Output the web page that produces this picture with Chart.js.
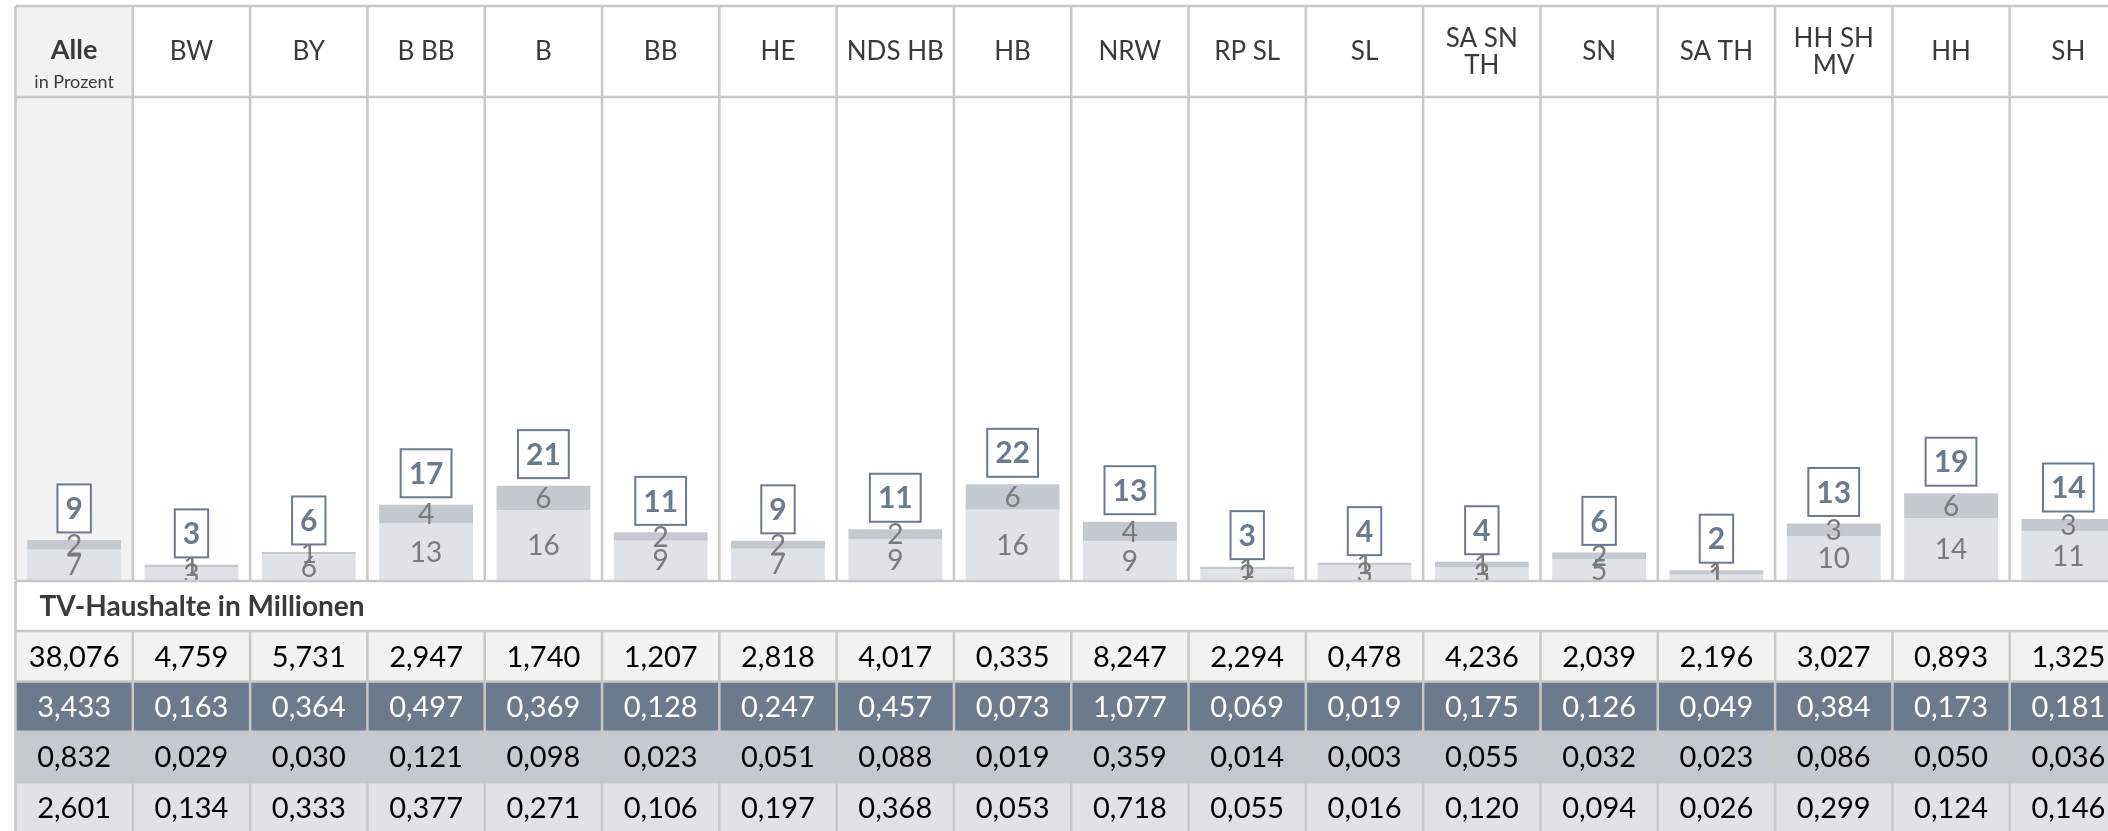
<!DOCTYPE html>
<html lang="de">
<head>
<meta charset="utf-8">
<title>TV-Haushalte nach Regionen</title>
<script src="https://cdn.jsdelivr.net/npm/chart.js@4.4.1/dist/chart.umd.min.js"></script>
<style>
  html, body { margin: 0; padding: 0; background: #fff; overflow: hidden; }
  #wrap { width: 2140px; height: 831px; }
</style>
</head>
<body>
<div id="wrap"><canvas id="grafik" width="2140" height="831"></canvas></div>
<script>
// Regionen (Spalten), mehrzeilige Kopfzeilen als Array
var regionen = ['Alle', 'BW', 'BY', 'B BB', 'B', 'BB', 'HE', 'NDS HB', 'HB', 'NRW', 'RP SL', 'SL', ['SA SN', 'TH'], 'SN', 'SA TH', ['HH SH', 'MV'], 'HH', 'SH'];

// Anteile in Prozent (Balken)
var anteilUnten = [6.8, 2.8, 5.8, 12.8, 15.6, 8.8, 7.0, 9.2, 15.8, 8.7, 2.4, 3.3, 2.8, 4.6, 1.2, 9.9, 13.9, 11.0];
var anteilOben = [2.2, 0.6, 0.5, 4.1, 5.6, 1.9, 1.8, 2.2, 5.7, 4.4, 0.6, 0.6, 1.3, 1.6, 1.0, 2.8, 5.6, 2.7];
var anteilGesamt = [9, 3, 6, 17, 21, 11, 9, 11, 22, 13, 3, 4, 4, 6, 2, 13, 19, 14];

// TV-Haushalte in Millionen (Tabelle)
var haushalteAlle = [38.076, 4.759, 5.731, 2.947, 1.740, 1.207, 2.818, 4.017, 0.335, 8.247, 2.294, 0.478, 4.236, 2.039, 2.196, 3.027, 0.893, 1.325];
var haushalteGesamt = [3.433, 0.163, 0.364, 0.497, 0.369, 0.128, 0.247, 0.457, 0.073, 1.077, 0.069, 0.019, 0.175, 0.126, 0.049, 0.384, 0.173, 0.181];
var haushalteOben = [0.832, 0.029, 0.030, 0.121, 0.098, 0.023, 0.051, 0.088, 0.019, 0.359, 0.014, 0.003, 0.055, 0.032, 0.023, 0.086, 0.050, 0.036];
var haushalteUnten = [2.601, 0.134, 0.333, 0.377, 0.271, 0.106, 0.197, 0.368, 0.053, 0.718, 0.055, 0.016, 0.120, 0.094, 0.026, 0.299, 0.124, 0.146];

var SCHRIFT = 'Lato, "Open Sans", sans-serif';
var LINIE = '#c8c8c8';
var SCHIEFER = '#6b7a8c';

function zahl(v) {
    return v.toFixed(3).replace('.', ',');
}

// Kopfzeile, Raster, Beschriftungen und Tabelle
var tabellePlugin = {
    id: 'tabelle',
    beforeDatasetsDraw: function (chart) {
        var ctx = chart.ctx;
        var a = chart.chartArea;
        var n = regionen.length;
        var w = (a.right - a.left) / n;
        var oben = 6;
        ctx.save();
        // Hintergrund Spalte "Alle"
        ctx.fillStyle = '#f2f2f2';
        ctx.fillRect(a.left, oben, w, a.bottom - oben);
        // Kopfzeile
        ctx.fillStyle = '#3a3a3a';
        ctx.textAlign = 'center';
        ctx.textBaseline = 'middle';
        var mitte = (oben + a.top) / 2;
        for (var i = 0; i < n; i++) {
            var x = chart.scales.x.getPixelForValue(i);
            var lab = regionen[i];
            if (i === 0) {
                ctx.font = 'bold 27px ' + SCHRIFT;
                ctx.fillText(lab, x, mitte - 1);
                ctx.font = '18px ' + SCHRIFT;
                ctx.fillText('in Prozent', x, mitte + 31);
            } else if (Array.isArray(lab)) {
                ctx.font = '26px ' + SCHRIFT;
                ctx.fillText(lab[0], x, mitte - 13);
                ctx.fillText(lab[1], x, mitte + 14);
            } else {
                ctx.font = '26px ' + SCHRIFT;
                ctx.fillText(lab, x, mitte);
            }
        }
        // Raster
        ctx.strokeStyle = LINIE;
        ctx.lineWidth = 2.5;
        ctx.beginPath();
        for (var k = 0; k <= n; k++) {
            var xl = a.left + k * w;
            ctx.moveTo(xl, oben);
            ctx.lineTo(xl, a.bottom);
        }
        ctx.moveTo(a.left, oben);
        ctx.lineTo(a.right + 5, oben);
        ctx.moveTo(a.left, a.top);
        ctx.lineTo(a.right + 5, a.top);
        ctx.stroke();
        ctx.restore();
    },
    afterDatasetsDraw: function (chart) {
        var ctx = chart.ctx;
        var unten = chart.getDatasetMeta(0).data;
        var obenM = chart.getDatasetMeta(1).data;
        ctx.save();
        ctx.textAlign = 'center';
        ctx.textBaseline = 'middle';
        for (var i = 0; i < regionen.length; i++) {
            var b0 = unten[i], b1 = obenM[i];
            ctx.fillStyle = '#7a7a7a';
            ctx.font = '28px ' + SCHRIFT;
            ctx.fillText(String(Math.round(anteilUnten[i])), b0.x, (b0.y + b0.base) / 2 + 1);
            ctx.fillText(String(Math.round(anteilOben[i])), b1.x, (b1.y + b1.base) / 2 + 1);
            // Box mit Gesamtwert
            ctx.font = 'bold 30px ' + SCHRIFT;
            var txt = String(anteilGesamt[i]);
            var bw = ctx.measureText(txt).width + 16;
            var bh = 48;
            var by = b1.y - 7.5 - bh;
            ctx.fillStyle = '#fff';
            ctx.fillRect(b1.x - bw / 2, by, bw, bh);
            ctx.strokeStyle = SCHIEFER;
            ctx.lineWidth = 2;
            ctx.strokeRect(b1.x - bw / 2, by, bw, bh);
            ctx.fillStyle = SCHIEFER;
            ctx.fillText(txt, b1.x, by + bh / 2 + 1);
        }
        ctx.restore();
    },
    afterDraw: function (chart) {
        var ctx = chart.ctx;
        var a = chart.chartArea;
        var n = regionen.length;
        var w = (a.right - a.left) / n;
        var y0 = a.bottom + 1;
        var titelH = 50;
        var zeileH = 50.4;
        var zeilen = [
            { werte: haushalteAlle, bg: '#f2f2f2', fg: '#000' },
            { werte: haushalteGesamt, bg: SCHIEFER, fg: '#fff' },
            { werte: haushalteOben, bg: '#c5cad1', fg: '#000' },
            { werte: haushalteUnten, bg: '#dfe2e6', fg: '#000' }
        ];
        ctx.save();
        // Titelzeile
        ctx.fillStyle = '#fff';
        ctx.fillRect(a.left, y0, a.right - a.left + 5, titelH);
        ctx.fillStyle = '#3a3a3a';
        ctx.font = 'bold 28px ' + SCHRIFT;
        ctx.textAlign = 'left';
        ctx.textBaseline = 'middle';
        ctx.fillText('TV-Haushalte in Millionen', a.left + 24, y0 + titelH / 2 + 1);
        // Datenzeilen
        var yz = y0 + titelH;
        ctx.textAlign = 'center';
        ctx.font = '29px ' + SCHRIFT;
        zeilen.forEach(function (z, r) {
            var yt = yz + r * zeileH;
            ctx.fillStyle = z.bg;
            ctx.fillRect(a.left, yt, a.right - a.left + 5, zeileH);
            ctx.fillStyle = z.fg;
            for (var i = 0; i < n; i++) {
                ctx.fillText(zahl(z.werte[i]), chart.scales.x.getPixelForValue(i), yt + zeileH / 2 + 1);
            }
        });
        // Linien
        ctx.strokeStyle = LINIE;
        ctx.lineWidth = 2.5;
        ctx.beginPath();
        ctx.moveTo(a.left, y0);
        ctx.lineTo(a.right + 5, y0);
        for (var r = 0; r <= zeilen.length; r++) {
            ctx.moveTo(a.left, yz + r * zeileH);
            ctx.lineTo(a.right + 5, yz + r * zeileH);
        }
        ctx.moveTo(a.left, y0);
        ctx.lineTo(a.left, chart.height);
        for (var k = 1; k <= n; k++) {
            ctx.moveTo(a.left + k * w, yz);
            ctx.lineTo(a.left + k * w, chart.height);
        }
        ctx.stroke();
        ctx.restore();
    }
};

function zeichnen() {
    var ctx = document.getElementById('grafik').getContext('2d');
    var chart = new Chart(ctx, {
        type: 'bar',
        data: {
            labels: regionen,
            datasets: [{
                label: 'unten',
                data: anteilUnten,
                backgroundColor: '#dfe2e6',
                borderWidth: 0,
                barPercentage: 0.8,
                categoryPercentage: 1.0
            }, {
                label: 'oben',
                data: anteilOben,
                backgroundColor: '#c4c9d0',
                borderWidth: 0,
                barPercentage: 0.8,
                categoryPercentage: 1.0
            }]
        },
        options: {
            responsive: false,
            animation: false,
            layout: {
                padding: { left: 15.5, right: 13, top: 97, bottom: 251 }
            },
            scales: {
                x: { stacked: true, display: false },
                y: { stacked: true, display: false, min: 0, max: 108.5 }
            },
            plugins: {
                legend: { display: false },
                tooltip: { enabled: false }
            }
        },
        plugins: [tabellePlugin]
    });
}

Promise.all([
    document.fonts.load('26px Lato'),
    document.fonts.load('bold 26px Lato')
]).then(zeichnen, zeichnen);
</script>
</body>
</html>
